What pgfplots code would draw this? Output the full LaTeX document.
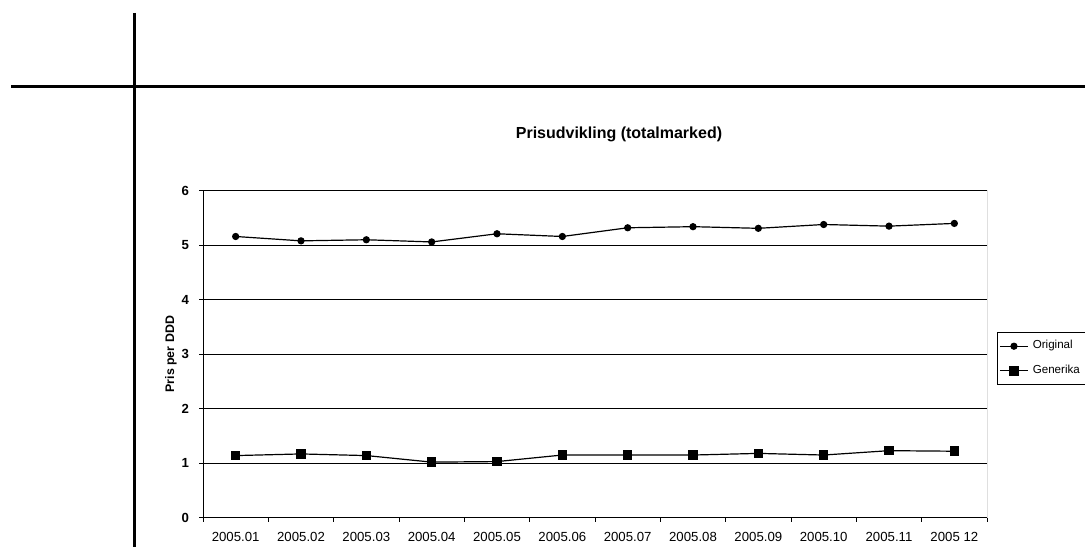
\documentclass[border=0pt]{standalone}
\usepackage{fontspec}
\setmainfont{Liberation Sans}
\usepackage{pgfplots}
\pgfplotsset{compat=1.18}

\begin{document}
\begin{tikzpicture}
% page frame: 1085x547 px at 0.5pt per px
\path[use as bounding box] (0,0) rectangle (542.5pt,273.5pt);
% scanned page rules
\draw[line width=1.5pt] (67pt,267pt) -- (67pt,0pt);
\draw[line width=1.5pt] (5.5pt,230pt) -- (542.5pt,230pt);

\begin{axis}[
  at={(101.5pt,14.65pt)}, anchor=south west,
  scale only axis,
  width=392pt, height=163.5pt,
  xmin=-0.5, xmax=11.5,
  ymin=0, ymax=6,
  xtick={-0.5,0.5,...,11.5},
  x tick label as interval=true,
  xticklabels={2005.01,2005.02,2005.03,2005.04,2005.05,2005.06,2005.07,2005.08,2005.09,2005.10,2005.11,2005 12},
  ytick={0,1,...,6},
  ymajorgrids,
  grid style={black, line width=0.5pt},
  axis line style={line width=0.5pt},
  tick align=outside,
  major tick length=2pt,
  tick style={black, line width=0.5pt},
  axis x line*=bottom, axis y line*=left,
  tick label style={font=\fontsize{6.6}{7.5}\selectfont},
  xticklabel style={yshift=-2pt},
  yticklabel style={xshift=-1.5pt, font=\fontsize{6.6}{7.5}\selectfont\bfseries},
  /pgf/number format/assume math mode=true,
  ylabel={\textbf{Pris per DDD}},
  ylabel style={font=\fontsize{6.2}{7}\selectfont, at={(axis description cs:-0.0408,0.5)}, anchor=center},
  title={\textbf{Prisudvikling (totalmarked)}},
  title style={font=\fontsize{8}{9}\selectfont, at={(axis description cs:0.5306,1.137)}, anchor=center},
  legend style={at={(axis description cs:1.0128,0.5667)}, anchor=north west,
    draw=black, line width=0.5pt, font=\fontsize{5.8}{7}\selectfont,
    inner xsep=0.8pt, inner ysep=1.8pt, row sep=2.6pt},
  legend image code/.code={
    \draw[mark repeat=2,mark phase=2,#1] plot coordinates {(0cm,0cm) (0.25cm,0cm) (0.5cm,0cm)};
  },
  legend cell align=left,
]
\addplot[black, line width=0.6pt, mark=*, mark size=1.5pt] coordinates {
  (0,5.16) (1,5.08) (2,5.10) (3,5.06) (4,5.21) (5,5.16)
  (6,5.32) (7,5.34) (8,5.31) (9,5.38) (10,5.35) (11,5.40)
};
\addlegendentry{Original}
\addplot[black, line width=0.6pt, mark=square*, mark size=2.1pt] coordinates {
  (0,1.14) (1,1.17) (2,1.14) (3,1.02) (4,1.03) (5,1.15)
  (6,1.15) (7,1.15) (8,1.18) (9,1.15) (10,1.23) (11,1.22)
};
\addlegendentry{Generika}
% top and right frame of the plot area
\draw[line width=0.5pt] (rel axis cs:0,1) -- (rel axis cs:1,1) -- (rel axis cs:1,0);
\end{axis}
\end{tikzpicture}
\end{document}
